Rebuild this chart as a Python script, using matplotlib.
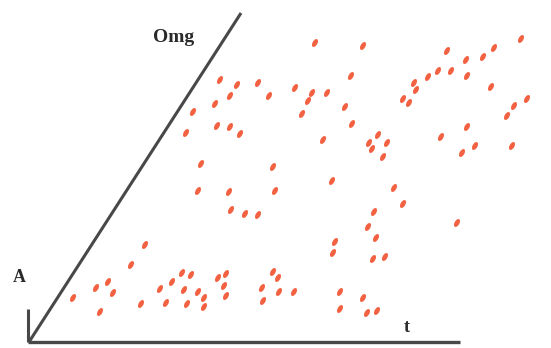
import matplotlib
matplotlib.use("Agg")
import matplotlib.pyplot as plt
from matplotlib.markers import MarkerStyle
from matplotlib.transforms import Affine2D

# scatter points (image-pixel coordinates)
xs = [315, 363, 447, 494, 521, 466, 483, 220, 237, 258, 230, 269, 295, 312, 308, 327,
      351, 438, 451, 428, 467, 414, 416, 491, 403, 409, 527, 514, 507, 215, 193, 345,
      302, 352, 467, 217, 230, 240, 186, 323, 441, 378, 369, 387, 372, 475, 512, 462,
      383, 201, 273, 332, 198, 229, 275, 231, 245, 258, 394, 403, 374, 368, 376, 457,
      335, 333, 373, 385, 145, 131, 182, 191, 172, 108, 96, 113, 160, 184, 198, 218,
      226, 224, 226, 204, 204, 73, 141, 166, 187, 100, 273, 278, 262, 279, 294, 263,
      340, 363, 340, 367, 377]
ys = [43, 46, 51, 48, 39, 60, 57, 80, 85, 83, 96, 96, 88, 93, 101, 93,
      76, 71, 71, 77, 76, 83, 90, 87, 99, 103, 99, 106, 116, 104, 112, 107,
      114, 124, 127, 126, 127, 134, 133, 140, 137, 135, 143, 143, 149, 146, 146, 153,
      157, 164, 167, 181, 191, 192, 191, 210, 214, 215, 188, 204, 212, 227, 238, 223,
      242, 253, 259, 257, 245, 265, 273, 275, 282, 282, 288, 293, 289, 290, 292, 278,
      274, 286, 296, 298, 307, 298, 304, 303, 304, 312, 272, 278, 288, 292, 292, 301,
      292, 298, 309, 313, 311]

label_diag = "Omg"
label_h = "t"
label_v = "A"

fig = plt.figure(figsize=(5.51, 3.48), dpi=100)
ax = fig.add_axes([0, 0, 1, 1])
ax.set_xlim(0, 551)
ax.set_ylim(348, 0)
ax.axis("off")

lc = "#484848"
ax.plot([29, 241], [342, 13], color=lc, lw=2.2, solid_capstyle="butt")
ax.plot([28, 460], [342, 342], color=lc, lw=2.4, solid_capstyle="butt")
ax.plot([28, 28], [342, 309], color=lc, lw=2.2, solid_capstyle="butt")

marker = MarkerStyle("o", transform=Affine2D().scale(0.55, 1.0).rotate_deg(-30))
ax.scatter(xs, ys, marker=marker, s=6.3 ** 2, color="#f25a38", edgecolors="none", alpha=0.95)

ax.text(174, 37, label_diag, fontsize=14, fontfamily="Liberation Serif", fontweight="bold",
        ha="center", va="center", color="#2a2a2a")
ax.text(407, 327, label_h, fontsize=13, fontfamily="Liberation Serif", fontweight="bold",
        ha="center", va="center", color="#2a2a2a")
ax.text(19, 277, label_v, fontsize=13, fontfamily="Liberation Serif", fontweight="bold",
        ha="center", va="center", color="#2a2a2a")

fig.savefig("out.png", dpi=100)
